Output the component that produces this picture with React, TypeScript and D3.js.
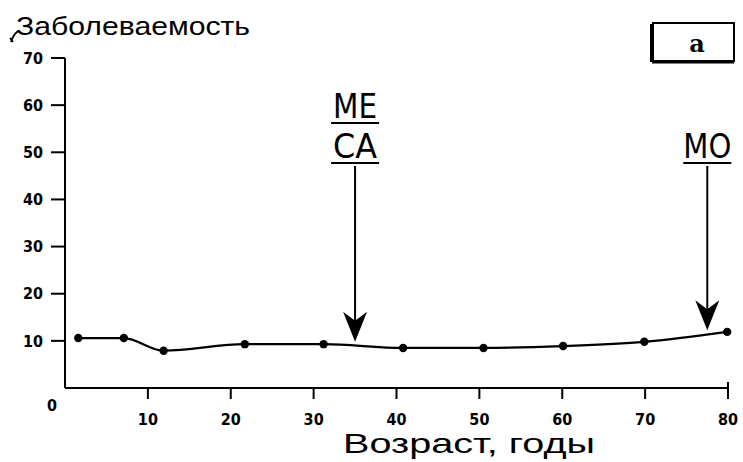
import React from "react";
import * as d3 from "d3";

const ages = [1.6, 7.1, 11.9, 21.7, 31.2, 40.8, 50.5, 60.1, 69.9, 79.9];
const incidence = [10.6, 10.6, 7.9, 9.3, 9.3, 8.5, 8.5, 8.9, 9.8, 11.9];
const yTicks = [10, 20, 30, 40, 50, 60, 70];
const xTicks = [10, 20, 30, 40, 50, 60, 70, 80];
const markerAges = [35, 77.5];
const markerLabels = [["ME", "CA"], ["MO"]];
const yTitle = "Заболеваемость";
const xTitle = "Возраст, годы";
const panelLabel = "a";

const W = 743, H = 462;
const x = d3.scaleLinear().domain([0, 80]).range([65, 728]);
const y = d3.scaleLinear().domain([0, 70]).range([388, 58]);

const tickFont = "'DejaVu Sans Condensed', 'DejaVu Sans', sans-serif";
const titleFont = "Arial, 'Liberation Sans', sans-serif";

export default function App() {
  const line = d3.line<number>().x((_, i) => x(ages[i])).y((d) => y(d)).curve(d3.curveMonotoneX)(incidence) || "";
  const interp = (a: number) => {
    const i = d3.bisectLeft(ages, a);
    const i0 = Math.max(0, i - 1), i1 = Math.min(ages.length - 1, i);
    if (i0 === i1) return incidence[i0];
    const t = (a - ages[i0]) / (ages[i1] - ages[i0]);
    return incidence[i0] + t * (incidence[i1] - incidence[i0]);
  };
  const arrowTop = 166;
  return (
    <svg width={W} height={H} style={{ position: "absolute", left: 0, top: 0, background: "#fff" }}>
      <rect width={W} height={H} fill="#fff" />
      {/* y title */}
      <path d="M13,42 L10,38 M11,42 Q13,35 18,31" stroke="#000" strokeWidth={1.8} fill="none" />
      <text x={16} y={35} fontFamily={titleFont} fontSize={25} fill="#000" textLength={234} lengthAdjust="spacingAndGlyphs">{yTitle}</text>
      {/* axes */}
      <line x1={x(0)} x2={x(0)} y1={y(70)} y2={y(0)} stroke="#000" strokeWidth={2} />
      <line x1={x(0)} x2={x(80)} y1={y(0)} y2={y(0)} stroke="#000" strokeWidth={2} />
      {yTicks.map((t) => (
        <g key={"y" + t}>
          <line x1={x(0) - 14} x2={x(0)} y1={y(t)} y2={y(t)} stroke="#000" strokeWidth={2} />
          <text x={43} y={y(t)} dy="0.36em" textAnchor="end" fontFamily={tickFont} fontWeight="bold" fontSize={16}>{t}</text>
        </g>
      ))}
      <text x={52} y={y(0) + 17} dy="0.36em" textAnchor="middle" fontFamily={tickFont} fontWeight="bold" fontSize={16}>0</text>
      {xTicks.map((t) => (
        <g key={"x" + t}>
          <line x1={x(t)} x2={x(t)} y1={y(0)} y2={y(0) + 11} stroke="#000" strokeWidth={2} />
          <text x={x(t)} y={y(0) + 31} dy="0.36em" textAnchor="middle" fontFamily={tickFont} fontWeight="bold" fontSize={16}>{t}</text>
        </g>
      ))}
      <line x1={x(80)} x2={x(80)} y1={y(0) - 6} y2={y(0)} stroke="#000" strokeWidth={2} />
      <text x={469} y={453} textAnchor="middle" fontFamily={titleFont} fontSize={28} textLength={252} lengthAdjust="spacingAndGlyphs">{xTitle}</text>
      {/* data */}
      <path d={line} fill="none" stroke="#000" strokeWidth={2.2} />
      {incidence.map((v, i) => (
        <circle key={i} cx={x(ages[i])} cy={y(v)} r={4.2} fill="#000" />
      ))}
      {/* markers */}
      {markerAges.map((a, k) => {
        const cx = x(a);
        const tip = y(interp(a)) - 4;
        const labels = markerLabels[k];
        const n = labels.length;
        return (
          <g key={"m" + k}>
            {labels.map((lb, j) => {
              const base = 163 - (n - 1 - j) * 40;
              return (
                <g key={lb}>
                  <text x={cx} y={base - 5} textAnchor="middle" fontFamily={tickFont} fontSize={34} textLength={lb === "MO" ? 48 : 44} lengthAdjust="spacingAndGlyphs">{lb}</text>
                  <line x1={cx - 24} x2={cx + 24} y1={base} y2={base} stroke="#000" strokeWidth={2} />
                </g>
              );
            })}
            <line x1={cx} x2={cx} y1={arrowTop} y2={tip - 20} stroke="#000" strokeWidth={2} />
            <path d={`M${cx},${tip} L${cx - 12},${tip - 30} L${cx},${tip - 21} L${cx + 12},${tip - 30} Z`} fill="#000" />
          </g>
        );
      })}
      {/* panel label */}
      <rect x={653} y={23} width={81} height={38} fill="#fff" stroke="#000" strokeWidth={2} />
      <line x1={652} x2={652} y1={24} y2={62} stroke="#000" strokeWidth={4} />
      <line x1={652} x2={734} y1={62} y2={62} stroke="#000" strokeWidth={3} />
      <text x={697} y={43} dy="0.36em" textAnchor="middle" fontFamily="'DejaVu Serif', 'Liberation Serif', serif" fontWeight="bold" fontSize={24}>{panelLabel}</text>
    </svg>
  );
}
